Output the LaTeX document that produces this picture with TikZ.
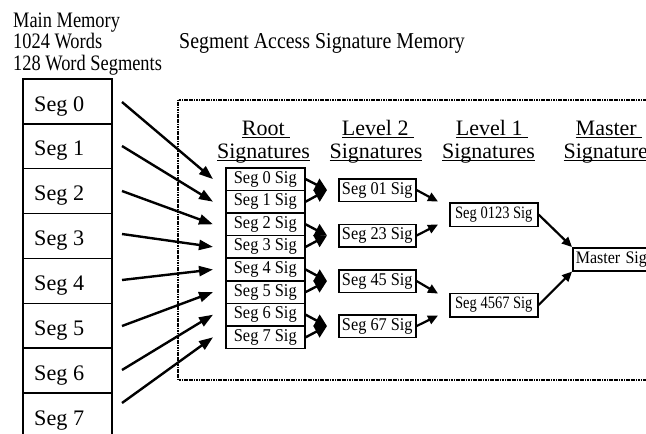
\documentclass[tikz,border=0pt]{standalone}
\usepackage{fontspec}
\setmainfont{Liberation Serif}
\usetikzlibrary{arrows.meta}
% underline at a fixed depth below the baseline
\newcommand\hdul[1]{\setbox0\hbox{#1}\rlap{\rule[-3pt]{\wd0}{1.3pt}}\box0}
% vertically stretched text
\newcommand\vst[2]{\scalebox{1}[#1]{#2}}
\begin{document}
\begin{tikzpicture}[x=1pt,y=-1pt,
  membox/.style={draw, line width=1.6pt, minimum width=89pt, minimum height=44.9pt, inner sep=0pt, anchor=north west},
  memtext/.style={anchor=base west, inner sep=0pt, font=\fontsize{22.2}{24}\selectfont},
  toptext/.style={anchor=base west, inner sep=0pt, font=\fontsize{18.4}{21}\selectfont},
  sigbox/.style={draw, line width=1.6pt, minimum width=79pt, minimum height=22.6pt, inner sep=0pt, anchor=north west, font=\fontsize{16.4}{18}\selectfont},
  lvtwo/.style={draw, line width=1.6pt, minimum width=77pt, minimum height=22.5pt, inner sep=0pt, anchor=north west, font=\fontsize{16.3}{18}\selectfont},
  lvone/.style={draw, line width=1.6pt, minimum width=88pt, minimum height=23.5pt, inner sep=0pt, anchor=north west, font=\fontsize{14.5}{16}\selectfont},
  heading/.style={anchor=base, inner sep=0pt, font=\fontsize{22}{24}\selectfont},
  bigarrow/.style={line width=2.4pt, -{Triangle[length=14pt,width=10pt]}},
  smallarrow/.style={line width=2.2pt, -{Triangle[length=10pt,width=9pt]}},
  mergearrow/.style={line width=2.4pt, -{Triangle[length=12pt,width=13pt]}},
  frame/.style={line width=1.2pt, dash pattern=on 1.2pt off 0.5pt}
]
\clip (0,0) rectangle (646,434);
\fill[white] (0,0) rectangle (646,434);

% captions
\node[toptext] (cap1) at (13,27) {\vst{1.2}{Main Memory}};
\node[toptext] (cap2) at (13,48.5) {\vst{1.2}{1024 Words}};
\node[toptext] (cap3) at (13,70.2) {\vst{1.2}{128 Word Segments}};
\node[anchor=base west, inner sep=0pt, font=\fontsize{19.9}{22}\selectfont] (title) at (179,48.5) {\vst{1.14}{Segment Access Signature Memory}};

% signature memory frame
\draw[frame] (178,100) rectangle (680,380);

% main memory segments
\foreach \i in {0,...,7} {
  \node[membox] (m\i) at (22,78+\i*44.9) {};
  \node[memtext] (mt\i) at ([shift={(12,33)}]m\i.north west) {Seg \i};
}

% column headings
\node[heading] (hroota) at (266,135) {\hdul{Root\ }};
\node[heading] (hrootb) at (263.5,158) {\hdul{Signatures}};
\node[heading] (hlta) at (378,135) {\hdul{Level 2\ }};
\node[heading] (hltb) at (376,158) {\hdul{Signatures}};
\node[heading] (hloa) at (492,135) {\hdul{Level 1\ }};
\node[heading] (hlob) at (488.5,158) {\hdul{Signatures}};
\node[heading] (hmsa) at (609,135) {\hdul{Master\ }};
\node[heading] (hmsb) at (610,158) {\hdul{Signatures}};

% root signatures
\foreach \i in {0,...,7} {
  \node[sigbox] (r\i) at (225,167+\i*22.6) {\vst{1.1}{Seg \i\ Sig}};
}

% level 2 signatures
\node[lvtwo] (l01) at (338,178) {\vst{1.1}{Seg 01 Sig}};
\node[lvtwo] (l23) at (338,223.5) {\vst{1.1}{Seg 23 Sig}};
\node[lvtwo] (l45) at (338,269) {\vst{1.1}{Seg 45 Sig}};
\node[lvtwo] (l67) at (338,314) {\vst{1.1}{Seg 67 Sig}};

% level 1 signatures
\node[lvone] (l0123) at (449,202) {\vst{1.2}{Seg 0123 Sig}};
\node[lvone] (l4567) at (449,292.5) {\vst{1.2}{Seg 4567 Sig}};

% master signature
\node[draw, line width=1.6pt, minimum width=86pt, minimum height=23pt, inner sep=0pt, anchor=north west,
      font=\fontsize{16}{18}\selectfont, text width=84pt, align=left] (mst) at (572,247) {\hspace{2pt}\vst{1.1}{Master Sig}};

% main memory to root signatures
\coordinate (s0) at (122,102);
\coordinate (s1) at (122,146);
\coordinate (s2) at (122,191);
\coordinate (s3) at (122,234);
\coordinate (s4) at (122,280);
\coordinate (s5) at (122,326);
\coordinate (s6) at (122,370);
\coordinate (s7) at (122,403);
\foreach \i in {0,...,7} {
  \coordinate (t\i) at ([xshift=-12pt]r\i.west);
  \draw[bigarrow] (s\i) -- (t\i);
}

% root to level 2
\foreach \a/\b/\c in {0/1/l01, 2/3/l23, 4/5/l45, 6/7/l67} {
  \coordinate (j\c) at ([xshift=-11pt]\c.west);
  \draw[mergearrow] (r\a.east) -- (j\c);
  \draw[mergearrow] (r\b.east) -- (j\c);
}

% level 2 to level 1
\coordinate (u0) at ([shift={(-11,-13)}]l0123.west);
\coordinate (u1) at ([shift={(-11,10)}]l0123.west);
\coordinate (u2) at ([shift={(-11,-11.5)}]l4567.west);
\coordinate (u3) at ([shift={(-11,10.5)}]l4567.west);
\draw[smallarrow] (l01.east) -- (u0);
\draw[smallarrow] (l23.east) -- (u1);
\draw[smallarrow] (l45.east) -- (u2);
\draw[smallarrow] (l67.east) -- (u3);

% level 1 to master
\draw[smallarrow] (l0123.east) -- (mst.north west);
\draw[smallarrow] (l4567.east) -- (mst.south west);
\end{tikzpicture}
\end{document}
